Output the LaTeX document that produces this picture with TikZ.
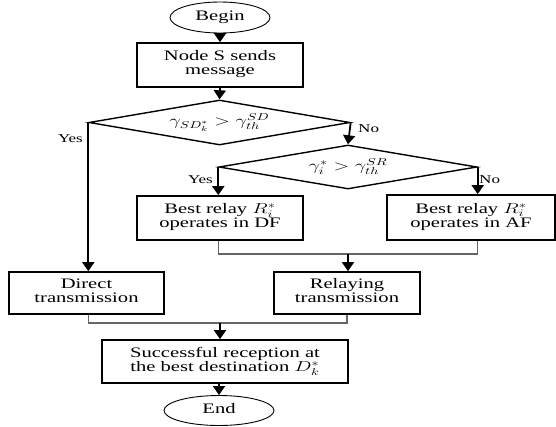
\documentclass[tikz,border=0pt]{standalone}
\usepackage{fontspec}
\setmainfont{Liberation Serif}
\usetikzlibrary{shapes.geometric,arrows.meta}
\newcommand{\sx}[1]{\scalebox{1.42}[1]{\begin{tabular}{@{}c@{}}#1\end{tabular}}}
\tikzset{
  txt/.style={font=\fontsize{14.5}{14}\selectfont, align=center, inner sep=0pt},
  boxst/.style={txt, draw=black, line width=1.7pt, rectangle},
  ovalst/.style={txt, draw=black, line width=0.9pt, ellipse},
  decst/.style={txt, draw=black, line width=1.4pt, diamond, shape aspect=5.8},
  flow/.style={draw=black, line width=1.8pt, -{Triangle[width=12pt,length=9pt]}},
  merge/.style={draw=gray!80!black, line width=1.2pt},
  lbl/.style={font=\fontsize{12}{12}\selectfont, inner sep=0pt}
}
\begin{document}
\begin{tikzpicture}[x=1pt,y=-1pt]
\useasboundingbox (0,0) rectangle (556,426);
\node[ovalst, minimum width=100, minimum height=31] (begin) at (220,17.5) {\sx{Begin}};
\node[boxst, minimum width=166, minimum height=44] (nodeS) at (220,65) {\sx{Node S sends\\message}};
\node[decst, minimum width=261, minimum height=45] (d1) at (219.5,122.5) {\sx{$\gamma_{SD_k^*} > \gamma_{th}^{SD}$}};
\node[decst, minimum width=258, minimum height=44] (d2) at (348,167) {\sx{$\gamma_{i}^{*} > \gamma_{th}^{SR}$}};
\node[boxst, minimum width=166, minimum height=44] (df) at (220,218) {\sx{Best relay $R_i^*$\\operates in DF}};
\node[boxst, minimum width=168, minimum height=45] (af) at (471,217.5) {\sx{Best relay $R_i^*$\\operates in AF}};
\node[boxst, minimum width=155, minimum height=42] (direct) at (86.5,293) {\sx{Direct\\transmission}};
\node[boxst, minimum width=146, minimum height=42] (relay) at (347,293) {\sx{Relaying\\transmission}};
\node[boxst, minimum width=246, minimum height=43] (succ) at (225,361.5) {\sx{Successful reception at\\the best destination $D_k^*$}};
\node[ovalst, minimum width=110, minimum height=30] (end) at (219,410.5) {\sx{End}};

\coordinate (m1) at (348,254);
\coordinate (m2) at (220,323);

\draw[flow] (begin.south) -- (nodeS.north);
\draw[flow] (nodeS.south) -- (d1.north);
\draw[flow] (d1.west) -- (d1.west |- direct.north);
\draw[flow] (d1.east) -- (d2.north);
\draw[flow] (d2.west) -- (d2.west |- df.north);
\draw[flow] (d2.east) -- (d2.east |- af.north);
\draw[merge] (d2.west |- df.south) |- (m1) -| (d2.east |- af.south);
\draw[flow] (m1) -- (m1 |- relay.north);
\draw[merge] (d1.west |- direct.south) |- (m2) -| (relay.south);
\draw[flow] (m2) -- (m2 |- succ.north);
\draw[flow] (end.north |- succ.south) -- (end.north);

\node[lbl, anchor=east] (yes1) at (83,140) {\sx{Yes}};
\node[lbl, anchor=west] (no1) at (358,130) {\sx{No}};
\node[lbl, anchor=east] (yes2) at (213,181) {\sx{Yes}};
\node[lbl, anchor=west] (no2) at (479,181) {\sx{No}};
\end{tikzpicture}
\end{document}
